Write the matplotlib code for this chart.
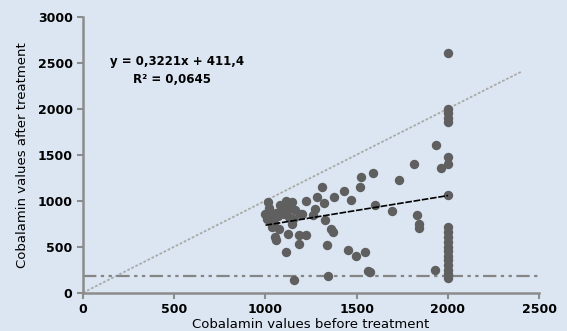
import matplotlib
matplotlib.use('Agg')
import matplotlib.pyplot as plt
import numpy as np

# cobalamin before / after treatment
before = [2000, 2000, 2000, 2000, 2000, 2000, 2000, 1960, 1935, 2000,
          2000, 2000, 2000, 2000, 2000, 2000, 2000, 2000, 2000, 2000, 2000, 2000,
          1930, 1590, 1730, 1815, 1600, 1695, 1830, 1840, 1840, 1575,
          1015, 1020, 1115, 1145, 1220, 1310, 1285, 1320, 1375, 1430, 1470, 1525, 1520,
          1090, 1125, 1160, 1190, 1270, 1260, 1050, 1035, 1050, 1060, 1125, 1145,
          1185, 1220, 1325, 1360, 1370, 1185, 1115, 1335, 1450, 1495, 1545, 1560,
          1155, 1340,
          1000, 1010, 1030, 1070, 1080, 1100, 1130, 1060, 1110, 1150, 1200, 1020,
          1045, 1075]
after = [2610, 2000, 1950, 1900, 1850, 1480, 1400, 1350, 1610, 1060,
         710, 660, 600, 550, 500, 450, 400, 350, 300, 250, 200, 160,
         250, 1300, 1220, 1395, 950, 890, 840, 750, 700, 230,
         990, 865, 1000, 985, 995, 1150, 1040, 975, 1040, 1110, 1010, 1255, 1150,
         895, 910, 895, 860, 910, 840, 820, 710, 600, 570, 640, 750,
         630, 630, 785, 695, 660, 530, 445, 520, 465, 395, 440, 240,
         140, 185,
         850, 800, 780, 830, 950, 850, 820, 870, 940, 800, 850, 920,
         760, 690]

slope = 0.3221
intercept = 411.4
lower_limit = 180
identity_end = 2400

bg = '#dce6f2'
fig = plt.figure(figsize=(5.67, 3.31), dpi=100, facecolor=bg)
ax = fig.add_axes([0.1464, 0.1157, 0.8046, 0.834])
ax.set_facecolor(bg)

# y = x line
ax.plot([0, identity_end], [0, identity_end], color='#aaaaaa', lw=1.3,
        linestyle=(0, (1.5, 1)))
# lower reference line
ax.plot([0, 2500], [lower_limit, lower_limit], color='#858585', lw=1.6,
        linestyle=(0, (6, 2, 1.5, 2, 1.5, 2)))

ax.scatter(before, after, s=46, color='#5f5f5f', zorder=3, linewidths=0)

# trend line
xs = np.array([min(before), max(before)])
ax.plot(xs, slope * xs + intercept, color='black', lw=1.2, linestyle=(0, (4, 1)),
        zorder=4)

ax.text(148, 2508, 'y = 0,3221x + 411,4', fontsize=8.5, va='center',
        fontweight='semibold')
ax.text(274, 2312, 'R² = 0,0645', fontsize=8.5, va='center',
        fontweight='semibold')

ax.set_xlim(0, 2500)
ax.set_ylim(0, 3000)
ax.set_xticks(range(0, 2501, 500))
ax.set_yticks(range(0, 3001, 500))
for s in ['top', 'right']:
    ax.spines[s].set_visible(False)
for s in ['left', 'bottom']:
    ax.spines[s].set_color('#8c8c8c')
    ax.spines[s].set_linewidth(1.8)
ax.tick_params(colors='#8c8c8c', width=1.5, length=4, labelcolor='black',
               labelsize=9)
for lab in ax.get_xticklabels() + ax.get_yticklabels():
    lab.set_fontweight('semibold')

ax.set_xlabel('Cobalamin values before treatment', fontsize=9.5, labelpad=1)
ax.set_ylabel('Cobalamin values after treatment', fontsize=9.5, labelpad=6)

fig.savefig('out.png', dpi=100, facecolor=bg)
